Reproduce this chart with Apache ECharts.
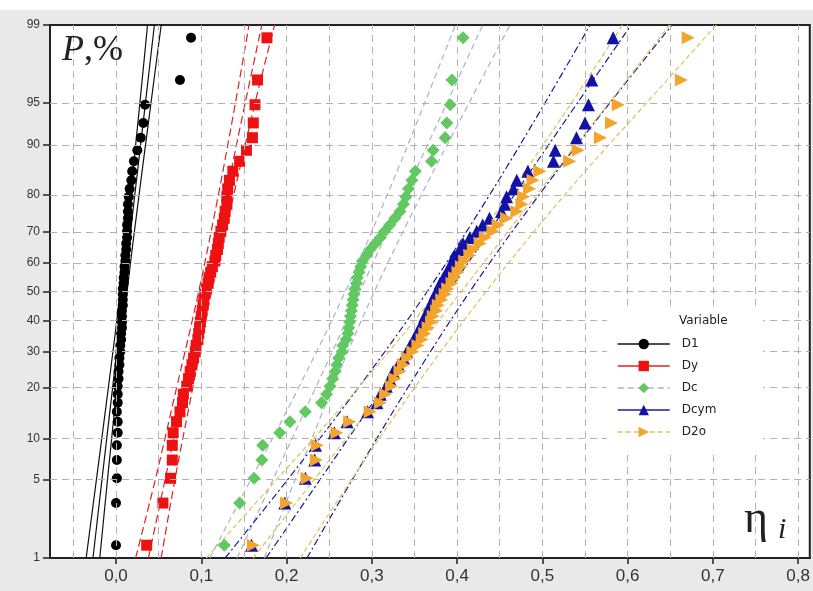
<!DOCTYPE html>
<html>
<head>
<meta charset="utf-8">
<script src="https://cdn.jsdelivr.net/npm/echarts@6/dist/echarts.min.js"></script>
<style>html,body{margin:0;padding:0;background:#fff;}#chart{width:813px;height:591px;}</style>
</head>
<body>
<div id="chart"></div>
<script>
// ---- data ----
// plotting positions, percent (shared by all five samples, n = 52)
const P_PCT = [1.34,3.24,5.15,7.06,8.97,10.88,12.79,14.69,16.60,18.51,20.42,22.33,24.24,26.15,28.05,29.96,31.87,33.78,35.69,37.60,39.50,41.41,43.32,45.23,47.14,49.05,50.95,52.86,54.77,56.68,58.59,60.50,62.40,64.31,66.22,68.13,70.04,71.95,73.85,75.76,77.67,79.58,81.49,83.40,85.31,87.21,89.12,91.03,92.94,94.85,96.76,98.66];

const D1 = [0.000,0.000,0.001,0.001,0.001,0.002,0.002,0.001,0.002,0.002,0.002,0.003,0.003,0.004,0.004,0.005,0.005,0.006,0.006,0.007,0.007,0.007,0.007,0.008,0.008,0.008,0.008,0.009,0.009,0.010,0.010,0.011,0.011,0.012,0.012,0.013,0.013,0.013,0.014,0.014,0.014,0.015,0.016,0.018,0.019,0.021,0.025,0.029,0.032,0.034,0.075,0.088];
const Dy = [0.036,0.055,0.064,0.066,0.066,0.067,0.071,0.075,0.078,0.079,0.083,0.085,0.087,0.089,0.091,0.093,0.094,0.096,0.097,0.098,0.099,0.100,0.101,0.102,0.103,0.104,0.106,0.108,0.109,0.111,0.113,0.116,0.117,0.119,0.120,0.121,0.123,0.125,0.127,0.128,0.130,0.130,0.131,0.133,0.137,0.145,0.153,0.160,0.161,0.163,0.166,0.177];
const Dc = [0.127,0.145,0.162,0.171,0.172,0.192,0.204,0.222,0.241,0.247,0.251,0.254,0.257,0.259,0.261,0.265,0.266,0.270,0.272,0.273,0.274,0.275,0.276,0.277,0.278,0.279,0.280,0.282,0.283,0.285,0.287,0.289,0.294,0.298,0.304,0.310,0.315,0.321,0.327,0.333,0.337,0.340,0.343,0.347,0.351,0.370,0.372,0.386,0.388,0.392,0.394,0.407];
const Dcym = [0.159,0.198,0.222,0.233,0.234,0.256,0.271,0.295,0.306,0.310,0.317,0.321,0.325,0.331,0.337,0.341,0.345,0.349,0.353,0.356,0.360,0.362,0.366,0.368,0.372,0.374,0.378,0.380,0.384,0.388,0.391,0.395,0.397,0.403,0.407,0.415,0.423,0.430,0.438,0.452,0.456,0.458,0.466,0.470,0.483,0.513,0.515,0.540,0.550,0.554,0.558,0.583];
const D2o = [0.161,0.200,0.224,0.235,0.236,0.259,0.274,0.298,0.310,0.316,0.323,0.327,0.333,0.337,0.342,0.348,0.354,0.359,0.362,0.366,0.370,0.372,0.376,0.378,0.382,0.386,0.389,0.394,0.397,0.401,0.405,0.409,0.415,0.419,0.427,0.433,0.442,0.448,0.458,0.470,0.476,0.478,0.485,0.489,0.497,0.532,0.542,0.568,0.581,0.589,0.663,0.671];

// fitted lines and 95% bands, read at these percent levels
const BAND_P = [1,5,20,50,80,95,99];
const D1_LO  = [-0.035,-0.023,-0.009,0.005,0.017,0.028,0.037];
const D1_FIT = [-0.027,-0.0165,-0.004,0.009,0.022,0.0345,0.045];
const D1_HI  = [-0.019,-0.010,0.001,0.013,0.027,0.041,0.053];
const Dy_LO  = [0.023,0.046,0.071,0.097,0.120,0.140,0.156];
const Dy_FIT = [0.038,0.0575,0.080,0.1045,0.129,0.1515,0.171];
const Dy_HI  = [0.053,0.069,0.090,0.112,0.138,0.163,0.186];
const Dc_LO  = [0.110,0.158,0.214,0.269,0.318,0.362,0.398];
const Dc_FIT = [0.142,0.184,0.234,0.286,0.338,0.388,0.430];
const Dc_HI  = [0.174,0.210,0.254,0.303,0.358,0.414,0.462];
const Dcym_LO  = [0.128,0.201,0.284,0.365,0.438,0.503,0.556];
const Dcym_FIT = [0.176,0.239,0.313,0.390,0.467,0.541,0.604];
const Dcym_HI  = [0.224,0.277,0.342,0.415,0.496,0.579,0.652];
const D2o_LO  = [0.106,0.188,0.284,0.377,0.460,0.534,0.594];
const D2o_FIT = [0.161,0.232,0.317,0.405,0.493,0.578,0.649];
const D2o_HI  = [0.216,0.276,0.350,0.434,0.526,0.622,0.704];

const Y_TICKS = [1,5,10,20,30,40,50,60,70,80,90,95,99];
const X_TICKS = [0,0.1,0.2,0.3,0.4,0.5,0.6,0.7,0.8];
const X_GRID = [-0.05,0,0.05,0.1,0.15,0.2,0.25,0.3,0.35,0.4,0.45,0.5,0.55,0.6,0.65,0.7,0.75,0.8];
const SERIES_NAMES = ['D1','Dy','Dc','Dcym','D2o'];

// ---- normal probability scale transform ----
function normInv(p){
  const a=[-3.969683028665376e+01,2.209460984245205e+02,-2.759285104469687e+02,1.383577518672690e+02,-3.066479806614716e+01,2.506628277459239e+00];
  const b=[-5.447609879822406e+01,1.615858368580409e+02,-1.556989798598866e+02,6.680131188771972e+01,-1.328068155288572e+01];
  const c=[-7.784894002430293e-03,-3.223964580411365e-01,-2.400758277161838e+00,-2.549732539343734e+00,4.374664141464968e+00,2.938163982698783e+00];
  const d=[7.784695709041462e-03,3.224671290700398e-01,2.445134137142996e+00,3.754408661907416e+00];
  const pl=0.02425, ph=1-pl; let q,r;
  if(p<pl){q=Math.sqrt(-2*Math.log(p));return (((((c[0]*q+c[1])*q+c[2])*q+c[3])*q+c[4])*q+c[5])/((((d[0]*q+d[1])*q+d[2])*q+d[3])*q+1);}
  if(p>ph){q=Math.sqrt(-2*Math.log(1-p));return -(((((c[0]*q+c[1])*q+c[2])*q+c[3])*q+c[4])*q+c[5])/((((d[0]*q+d[1])*q+d[2])*q+d[3])*q+1);}
  q=p-0.5;r=q*q;return (((((a[0]*r+a[1])*r+a[2])*r+a[3])*r+a[4])*r+a[5])*q/(((((b[0]*r+b[1])*r+b[2])*r+b[3])*r+b[4])*r+1);
}
const Z = pct => normInv(pct/100);
const Y_TICK_Z = Y_TICKS.map(Z);
const Y_MIN = Z(Y_TICKS[0]), Y_MAX = Z(Y_TICKS[Y_TICKS.length-1]);

const dataMap = {D1, Dy, Dc, Dcym, D2o};
const bandMap = {
  D1: [D1_LO, D1_FIT, D1_HI], Dy: [Dy_LO, Dy_FIT, Dy_HI], Dc: [Dc_LO, Dc_FIT, Dc_HI],
  Dcym: [Dcym_LO, Dcym_FIT, Dcym_HI], D2o: [D2o_LO, D2o_FIT, D2o_HI]
};
const styleMap = {
  D1:   {color:'#000000', line:'#111111', dash:'solid', sym:'circle', size:10, rot:0, lw:1.2},
  Dy:   {color:'#ee1111', line:'#dd2222', dash:[8,4], sym:'rect', size:11, rot:0, lw:1.2},
  Dc:   {color:'#62c862', line:'#a9b2c6', dash:[6,4], sym:'diamond', size:13, rot:0, lw:1.2},
  Dcym: {color:'#1212a8', line:'#1a1a98', dash:[7,3,2,3], sym:'triangle', size:13, rot:0, lw:1.2},
  D2o:  {color:'#f2a42c', line:'#e4c466', dash:[5,3], sym:'triangle', size:13, rot:-90, lw:1.3}
};

const series = [];
// grid lines
series.push({
  type:'line', name:'_grid', data:[], silent:true, z:1,
  markLine:{
    silent:true, symbol:['none','none'], label:{show:false}, animation:false,
    lineStyle:{color:'#b2b2b2', type:[7,5], width:1},
    emphasis:{disabled:true},
    data: X_GRID.map(v=>({xAxis:v})).concat(Y_TICK_Z.slice(1,-1).map(v=>({yAxis:v})))
  }
});
// fitted lines and bands
SERIES_NAMES.forEach(n=>{
  const st = styleMap[n];
  bandMap[n].forEach((arr, k)=>{
    series.push({
      type:'line', name:n+'_band'+k, z:2, silent:true, smooth:0.35, showSymbol:false, symbol:'none',
      lineStyle:{color:st.line, type:st.dash, width:st.lw},
      data: arr.map((x,i)=>[x, Z(BAND_P[i])])
    });
  });
});
// points
SERIES_NAMES.forEach((n,idx)=>{
  const st = styleMap[n];
  series.push({
    type:'line', name:n, z:3+idx, symbol:st.sym, symbolSize:st.size, symbolRotate:st.rot, showSymbol:true,
    lineStyle:{width:0, opacity:0}, itemStyle:{color:st.color}, emphasis:{disabled:true},
    data: dataMap[n].map((x,i)=>[x, Z(P_PCT[i])])
  });
});

const chart = echarts.init(document.getElementById('chart'), null, {renderer:'canvas'});
chart.setOption({
  animation:false,
  backgroundColor:'#ffffff',
  graphic:[
    {type:'rect', z:-10, silent:true, shape:{x:0, y:10, width:813, height:581}, style:{fill:'#e9e9e9'}},
    {type:'rect', z:50, silent:true, shape:{x:607, y:310, width:156, height:140}, style:{fill:'#ffffff'}},
    {type:'text', z:60, left:679, top:315, style:{text:'Variable', font:'12px "DejaVu Sans"', fill:'#222'}},
    {type:'text', z:60, left:62, top:33, style:{
      text:'{p|P},{q|%}', fill:'#222',
      rich:{p:{fontFamily:'"Liberation Serif"', fontStyle:'italic', fontSize:36, fill:'#222'},
            q:{fontFamily:'"Liberation Serif"', fontSize:36, fill:'#222'}},
      font:'36px "Liberation Serif"'}},
    {type:'text', z:60, left:744, top:497, style:{text:'η', font:'46px "Liberation Serif"', fill:'#222'}},
    {type:'text', z:60, left:778, top:515, style:{text:'i', font:'italic 30px "Liberation Serif"', fill:'#222'}}
  ],
  grid:{left:50, right:3, top:25, bottom:33, show:true, backgroundColor:'#ffffff', borderColor:'#222', borderWidth:2},
  legend:{
    orient:'vertical', left:617, top:338, itemWidth:52, itemHeight:13, itemGap:10, padding:0, z:60,
    textStyle:{fontFamily:'DejaVu Sans', fontSize:12, color:'#222', padding:[0,0,0,7]},
    selectedMode:false,
    data: SERIES_NAMES.map(n=>({
      name:n,
      lineStyle:{color:styleMap[n].line, width:1.5, type:(n==='D1'||n==='Dy'||n==='Dcym')?'solid':styleMap[n].dash, opacity:1}
    }))
  },
  xAxis:{
    type:'value', min:-0.0774, max:0.8136,
    axisLine:{show:true, onZero:false, lineStyle:{color:'#222', width:2}},
    axisTick:{show:true, customValues:X_TICKS, length:6, lineStyle:{color:'#222', width:1.5}},
    axisLabel:{customValues:X_TICKS, margin:10, fontFamily:'Liberation Sans', fontSize:17, color:'#333',
      formatter:v=>v.toFixed(1).replace('.',',')},
    splitLine:{show:false}
  },
  yAxis:{
    type:'value', min:Y_MIN, max:Y_MAX,
    axisLine:{show:true, onZero:false, lineStyle:{color:'#222', width:2}},
    axisTick:{show:true, customValues:Y_TICK_Z, length:7, lineStyle:{color:'#222', width:1.5}},
    axisLabel:{customValues:Y_TICK_Z, margin:10, fontFamily:'Liberation Sans', fontSize:12, color:'#333',
      formatter:v=>{let best=0;Y_TICK_Z.forEach((z,i)=>{if(Math.abs(z-v)<Math.abs(Y_TICK_Z[best]-v))best=i;});return String(Y_TICKS[best]);}},
    splitLine:{show:false}
  },
  series: series
});
</script>
</body>
</html>
